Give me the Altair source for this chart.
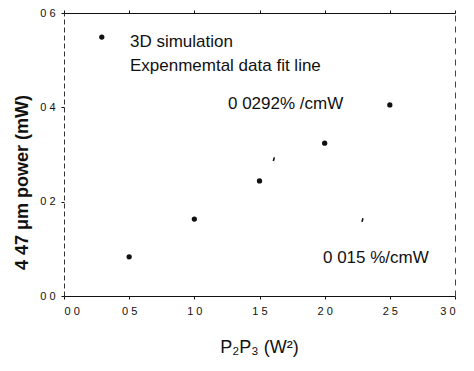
import altair as alt
import pandas as pd

# simulation points
sim_x = [0.5, 1.0, 1.5, 2.0, 2.5]
sim_y = [0.083, 0.163, 0.244, 0.324, 0.405]
# faint remnants of the experimental fit lines
fit_x = [1.61, 2.29]
fit_y = [0.290, 0.161]
# legend
legend_marker_x = [0.29]
legend_marker_y = [0.549]
legend_labels = ["3D simulation", "Expenmemtal data fit line"]
legend_x = [0.506, 0.506]
legend_y = [0.5395, 0.4876]
# annotations
note_labels = ["0 0292% /cmW", "0 015 %/cmW"]
note_x = [1.258, 1.987]
note_y = [0.407, 0.0806]

x_ticks = [0.0, 0.5, 1.0, 1.5, 2.0, 2.5, 3.0]
y_ticks = [0.0, 0.2, 0.4, 0.6]

FONT = "Liberation Sans"
INK = "#111111"

xs = alt.Scale(domain=[0, 3], nice=False)
ys = alt.Scale(domain=[0, 0.6], nice=False)

sim = pd.DataFrame({"x": sim_x, "y": sim_y})
fit = pd.DataFrame({"x": fit_x, "y": fit_y})
leg_m = pd.DataFrame({"x": legend_marker_x, "y": legend_marker_y})
leg_t = pd.DataFrame({"x": legend_x, "y": legend_y, "t": legend_labels})
notes = pd.DataFrame({"x": note_x, "y": note_y, "t": note_labels})

lab = "replace(format(datum.value, '.1f'), '.', '  ')"

points = alt.Chart(sim).mark_circle(size=28, color=INK, opacity=1).encode(
    x=alt.X("x:Q", scale=xs, axis=alt.Axis(
        orient="bottom", values=x_ticks, labelExpr=lab, grid=False,
        title="P₂P₃ (W²)", titleFont=FONT, titleFontSize=18, titleFontWeight="normal",
        titleColor=INK, titleX=195, titleY=51, titleBaseline="middle", titleAlign="center",
        labelFont=FONT, labelFontSize=11, labelColor=INK, labelPadding=6,
        tickSize=3, tickColor=INK, domainColor=INK, domainWidth=1.2)),
    y=alt.Y("y:Q", scale=ys, axis=alt.Axis(
        orient="left", values=y_ticks, labelExpr=lab, grid=False,
        title="4 47  μm  power  (mW)", titleFont=FONT, titleFontSize=18, titleFontWeight="bold",
        titleColor=INK, titleX=-42, titleY=169, titleAngle=270, titleAlign="center",
        titleBaseline="middle",
        labelFont=FONT, labelFontSize=11, labelColor=INK, labelPadding=6,
        tickSize=3, tickColor=INK, domainColor="#333333", domainDash=[5, 3], domainWidth=1)),
)

fits = alt.Chart(fit).mark_point(
    shape="M0,-1L0,1", size=14, filled=False, strokeWidth=1.6, color=INK, angle=15, opacity=1
).encode(
    x=alt.X("x:Q", scale=xs, axis=alt.Axis(
        orient="top", labels=False, title=None, grid=False, values=x_ticks,
        tickSize=3, tickColor=INK, domainColor=INK, domainWidth=1.2)),
    y=alt.Y("y:Q", scale=ys, axis=alt.Axis(
        orient="right", labels=False, title=None, grid=False, ticks=False,
        domainColor="#444444", domainDash=[6, 5], domainWidth=1)),
)

leg_marker = alt.Chart(leg_m).mark_circle(size=28, color=INK, opacity=1).encode(
    x=alt.X("x:Q", scale=xs, axis=None), y=alt.Y("y:Q", scale=ys, axis=None))

leg_text = alt.Chart(leg_t).mark_text(
    align="left", baseline="middle", font=FONT, fontSize=17, color=INK
).encode(x=alt.X("x:Q", scale=xs, axis=None), y=alt.Y("y:Q", scale=ys, axis=None), text="t:N")

note_text = alt.Chart(notes).mark_text(
    align="left", baseline="middle", font=FONT, fontSize=17, color=INK
).encode(x=alt.X("x:Q", scale=xs, axis=None), y=alt.Y("y:Q", scale=ys, axis=None), text="t:N")

chart = alt.layer(points, fits, leg_marker, leg_text, note_text).resolve_axis(
    x="independent", y="independent"
).properties(
    width=391, height=283,
    autosize=alt.AutoSizeParams(type="none"),
    padding={"left": 56, "top": 5, "right": 11, "bottom": 66},
    background="white",
).configure_view(stroke=None)

chart.save("out.html", embed_options={"renderer": "svg", "actions": False})
